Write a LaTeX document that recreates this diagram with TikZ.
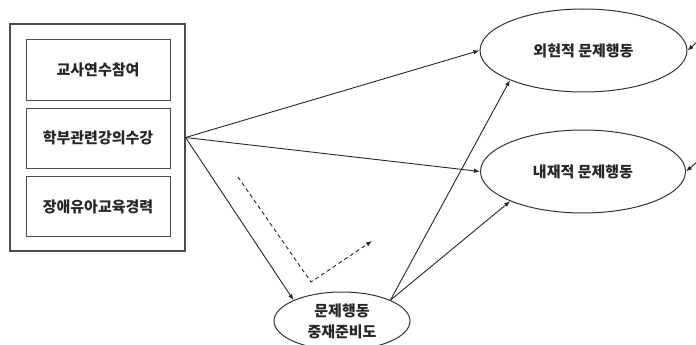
\documentclass[tikz,border=0pt]{standalone}
\usepackage{fontspec}
\setmainfont{Noto Sans CJK KR}
\usetikzlibrary{shapes.geometric,arrows.meta}

\tikzset{
	itembox/.style={draw=black!70, line width=1pt, minimum width=144pt, minimum height=60pt, inner sep=0pt},
	latent/.style={draw=black!80, ellipse, line width=1pt, inner sep=0pt},
	path/.style={->, line width=0.9pt, draw=black!85},
}

\begin{document}
\begin{tikzpicture}[x=1pt, y=-1pt, >={Latex[length=6pt,width=4.5pt]},
	font=\fontsize{15}{21}\selectfont\bfseries, text=black!85]
%	frame
	\useasboundingbox (0,0) rectangle (696,345);
	
	\node (grp)[draw=black!70, line width=1.1pt, minimum width=175pt, minimum height=227pt] at (97.5,137.5) {};
	
	\node (trn)[itembox] at (98,70) {교사연수참여};
	\node (lec)[itembox] at (98,138) {학부관련강의수강};
	\node (exp)[itembox] at (98,206.5) {장애유아교육경력};
	
	\node (ext)[latent, minimum width=207pt, minimum height=83pt] at (583.5,50.5) {외현적 문제행동};
	\node (int)[latent, minimum width=205pt, minimum height=83pt] at (583,171.5) {내재적 문제행동};
	\node (med)[latent, minimum width=136pt, minimum height=58pt, align=center] at (342,321) {문제행동\\중재준비도};
	
	\draw[path] (grp.east) -- (ext.west);
	\draw[path] (grp.east) -- (int.west);
	\draw[path] (grp.east) -- (med.north west);
	
	\draw[path] (med.north east) -- (ext.south west);
	\draw[path] (med.north east) -- (int.south west);
	
%	right side, cut off
	\coordinate (r1) at (704,36);
	\coordinate (r2) at (704,156);
	\draw[path] (r1) -- (ext.east);
	\draw[path] (r2) -- (int.east);
	
%	dashed arrow
	\coordinate (d1) at (238,177);
	\coordinate (d2) at (311,282);
	\coordinate (d3) at (372,241);
	\draw[path, dashed, dash pattern=on 4pt off 3pt] (d1) -- (d2) -- (d3);
	
\end{tikzpicture}
\end{document}
